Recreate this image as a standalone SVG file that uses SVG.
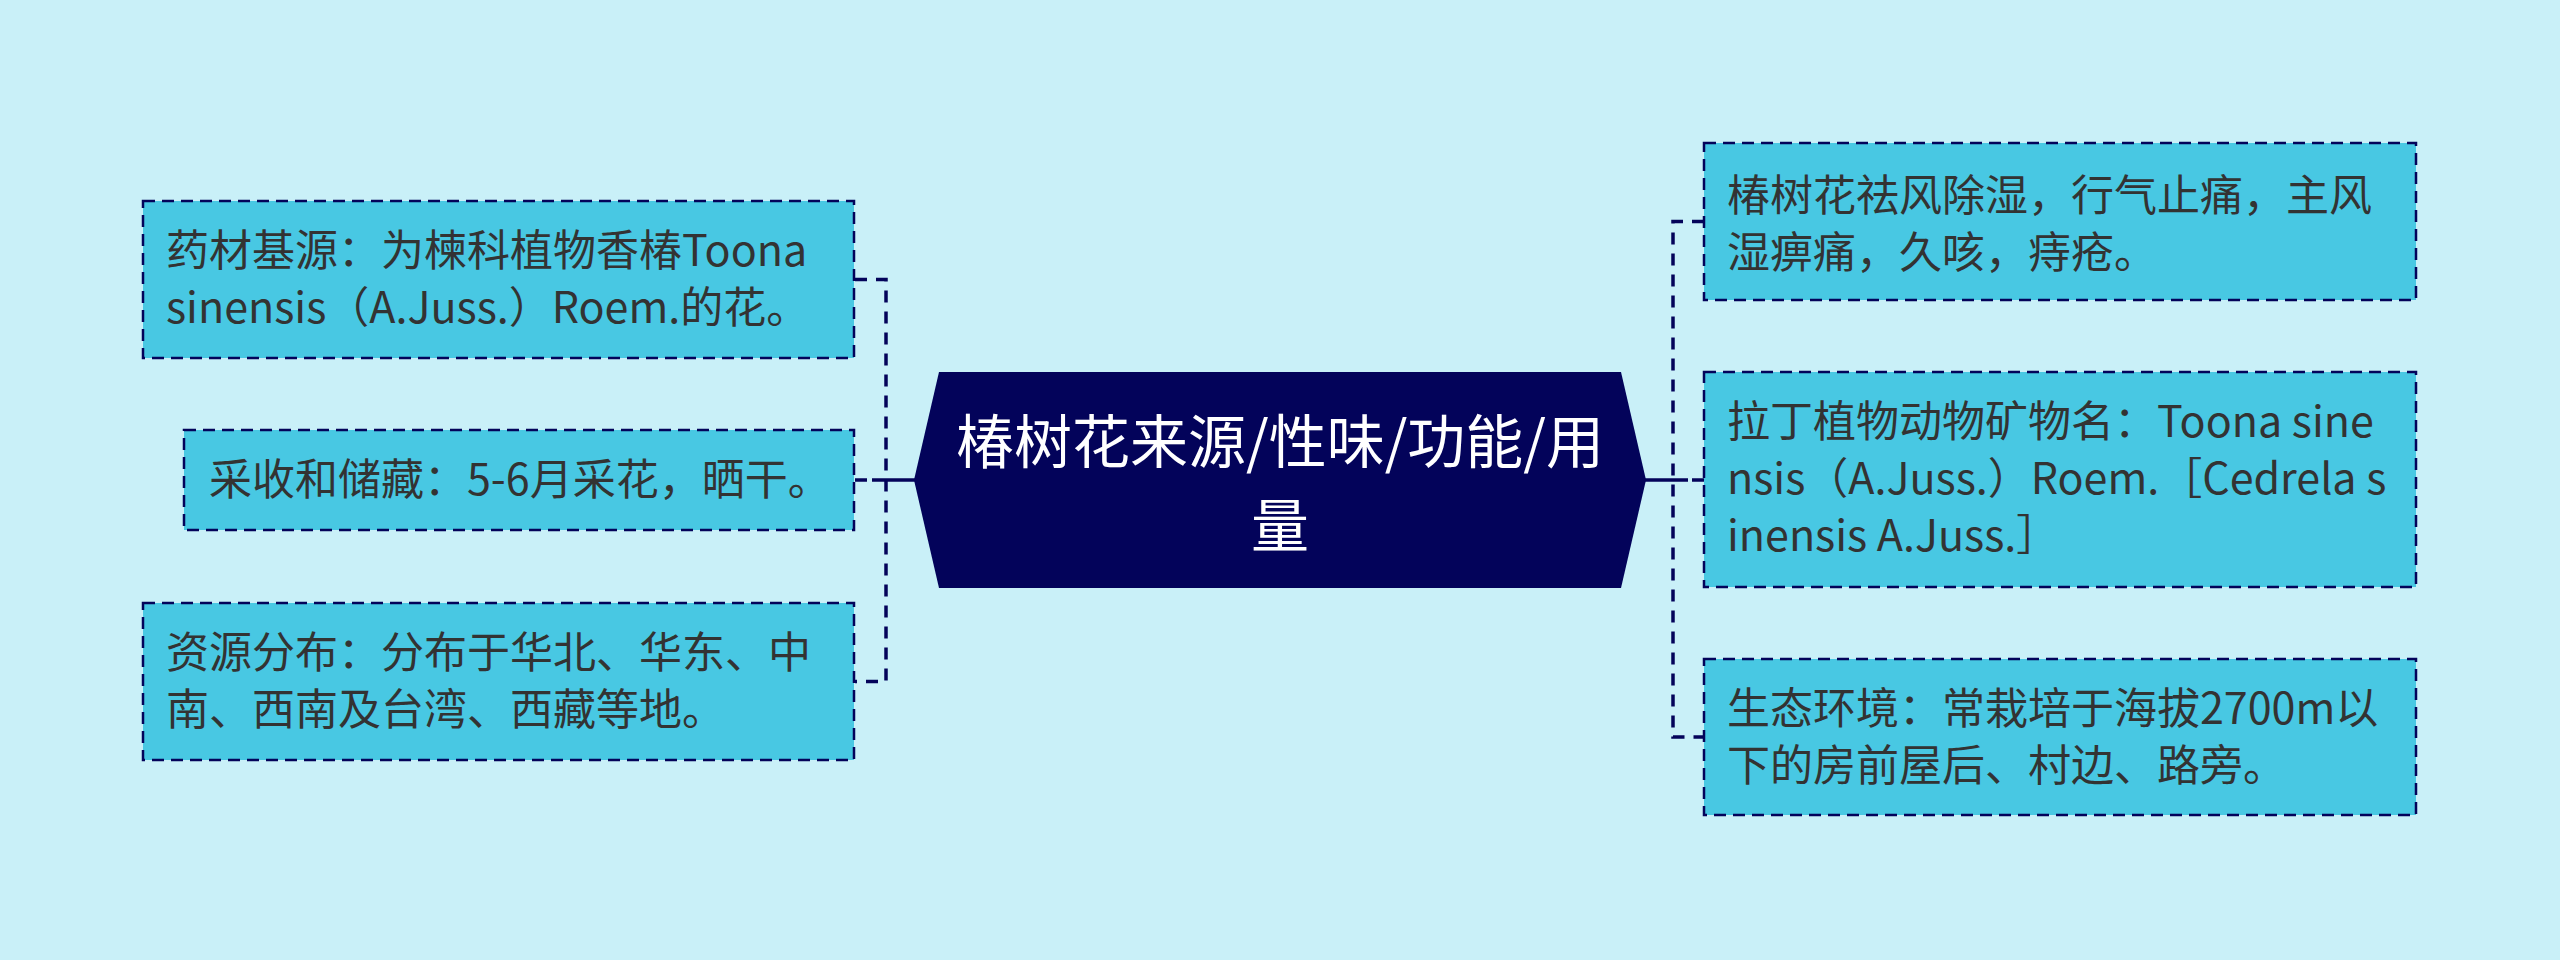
<svg xmlns="http://www.w3.org/2000/svg" width="2560" height="960" viewBox="0 0 2560 960">
<style>
.bg{fill:#C9F0F8}
.box{fill:#48C8E3;stroke:#03035A;stroke-width:2.5;stroke-dasharray:12 7}
.t{font-family:"Noto Sans CJK SC","Noto Sans",sans-serif;font-size:43px;fill:#333333}
.ct{font-family:"Noto Sans CJK SC","Noto Sans",sans-serif;font-size:58px;fill:#FFFFFF;text-anchor:middle}
.dash{fill:none;stroke:#03035A;stroke-width:3.5;stroke-dasharray:12 9}
.solid{fill:none;stroke:#03035A;stroke-width:3.5}
</style>
<rect class="bg" x="0" y="0" width="2560" height="960"/>
<g id="connectors">
<path class="dash" d="M855,279.5 H886 V681.5 H855"/>
<path class="dash" d="M855,480 H874"/>
<path class="solid" d="M872,480 H915"/>
<path class="dash" d="M1704,221.5 H1673 V737 H1704"/>
<path class="dash" d="M1704,480 H1686"/>
<path class="solid" d="M1645,480 H1688"/>
</g>
<g id="center">
<polygon points="914,480 939,372 1621,372 1646,480 1621,588 939,588" fill="#03035A"/>
<text class="ct" x="1280" y="463">椿树花来源/性味/功能/用</text>
<text class="ct" x="1280" y="547">量</text>
</g>
<g id="left1">
<rect class="box" x="143" y="201" width="711" height="157"/>
<text class="t" x="166" y="266">药材基源：为楝科植物香椿Toona</text>
<text class="t" x="166" y="323">sinensis（A.Juss.）Roem.的花。</text>
</g>
<g id="left2">
<rect class="box" x="184" y="430" width="670" height="100"/>
<text class="t" x="209" y="495">采收和储藏：5-6月采花，晒干。</text>
</g>
<g id="left3">
<rect class="box" x="143" y="603" width="711" height="157"/>
<text class="t" x="166" y="668">资源分布：分布于华北、华东、中</text>
<text class="t" x="166" y="725">南、西南及台湾、西藏等地。</text>
</g>
<g id="right1">
<rect class="box" x="1704" y="143" width="712" height="157"/>
<text class="t" x="1727" y="211">椿树花祛风除湿，行气止痛，主风</text>
<text class="t" x="1727" y="268">湿痹痛，久咳，痔疮。</text>
</g>
<g id="right2">
<rect class="box" x="1704" y="372" width="712" height="215"/>
<text class="t" x="1727" y="437">拉丁植物动物矿物名：Toona sine</text>
<text class="t" x="1727" y="494">nsis（A.Juss.）Roem.［Cedrela s</text>
<text class="t" x="1727" y="551">inensis A.Juss.］</text>
</g>
<g id="right3">
<rect class="box" x="1704" y="659" width="712" height="156"/>
<text class="t" x="1727" y="724">生态环境：常栽培于海拔2700m以</text>
<text class="t" x="1727" y="781">下的房前屋后、村边、路旁。</text>
</g>
</svg>
